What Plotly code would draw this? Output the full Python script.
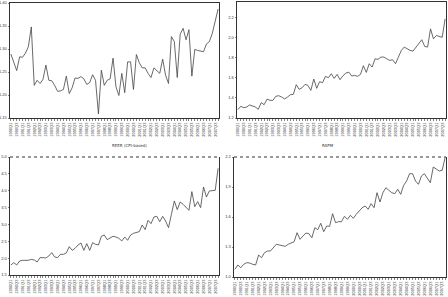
import plotly.graph_objects as go

quarters = [f"{1990 + i // 4}Q{i % 4 + 1}" for i in range(72)]
tick_labels = [q if i % 2 == 0 else "" for i, q in enumerate(quarters)]

reer = [1.289,1.270,1.253,1.283,1.282,1.291,1.305,1.348,1.221,1.232,
        1.225,1.234,1.265,1.232,1.231,1.221,1.208,1.209,1.212,1.241,
        1.203,1.216,1.237,1.236,1.240,1.235,1.223,1.227,1.244,1.232,
        1.159,1.254,1.221,1.232,1.235,1.280,1.218,1.199,1.247,1.205,
        1.272,1.272,1.212,1.288,1.270,1.259,1.259,1.247,1.238,1.259,
        1.254,1.247,1.278,1.243,1.225,1.327,1.316,1.238,1.332,1.345,
        1.320,1.342,1.241,1.299,1.297,1.296,1.294,1.311,1.316,1.334,
        1.364,1.387]

rapm = [1.283,1.316,1.302,1.309,1.329,1.322,1.309,1.286,1.352,1.332,
        1.388,1.375,1.375,1.415,1.421,1.408,1.388,1.408,1.431,1.434,
        1.530,1.484,1.500,1.533,1.523,1.474,1.586,1.494,1.560,1.550,
        1.613,1.599,1.639,1.593,1.632,1.580,1.619,1.645,1.655,1.616,
        1.622,1.613,1.632,1.718,1.652,1.738,1.705,1.787,1.781,1.804,
        1.804,1.787,1.771,1.778,1.738,1.804,1.870,1.903,1.886,1.870,
        1.863,1.903,1.936,1.976,1.910,1.903,2.084,1.985,2.018,2.009,
        2.000,2.183]

series3 = [1.797,1.866,1.797,1.915,1.935,1.925,1.935,1.965,1.945,1.886,
           2.014,2.014,2.004,2.064,2.163,2.034,2.014,2.113,2.113,2.153,
           2.341,2.232,2.291,2.390,2.449,2.232,2.430,2.232,2.459,2.410,
           2.390,2.647,2.687,2.548,2.608,2.647,2.627,2.588,2.509,2.627,
           2.529,2.687,2.736,2.766,2.786,2.984,2.845,3.122,3.023,3.221,
           3.241,3.082,3.241,3.102,2.904,3.300,3.696,3.438,3.666,3.597,
           3.520,3.419,3.973,3.527,3.676,3.498,4.111,3.814,3.992,4.012,
           4.012,4.665]

series4 = [1.077,1.120,1.093,1.127,1.143,1.140,1.127,1.120,1.220,1.193,
           1.243,1.260,1.260,1.293,1.327,1.320,1.310,1.307,1.327,1.343,
           1.353,1.443,1.377,1.410,1.440,1.433,1.393,1.493,1.473,1.537,
           1.453,1.510,1.507,1.633,1.543,1.553,1.553,1.607,1.577,1.617,
           1.587,1.627,1.660,1.693,1.710,1.677,1.733,1.693,1.843,1.750,
           1.843,1.893,1.867,1.843,1.833,1.877,1.827,1.917,1.960,2.033,
           2.033,1.960,1.927,2.010,2.033,1.987,1.943,2.100,2.077,2.060,
           2.067,2.193]

captions = ["REER (CPI-based)", "RAPM"]

W, H = 448, 297
panels = [
    (reer, (10, 219), (3, 118), [1.15, 1.40], [1.15, 1.20, 1.25, 1.30, 1.35, 1.40], ".2f", False),
    (rapm, (237, 446), (2, 118), [1.2, 2.35], [1.2, 1.4, 1.6, 1.8, 2.0, 2.2], ".1f", False),
    (series3, (10, 219), (157, 275), [1.5, 5.0], [1.5, 2.0, 2.5, 3.0, 3.5, 4.0, 4.5, 5.0], ".1f", True),
    (series4, (234, 446), (157, 277), [1.0, 2.2], [1.0, 1.3, 1.6, 1.9, 2.2], ".1f", True),
]

tick_font = dict(family="Liberation Sans Narrow, Arial Narrow, sans-serif", size=4, color="#333")

fig = go.Figure()
layout = dict(width=W, height=H, autosize=False, margin=dict(l=0, r=0, t=0, b=0, pad=0),
              paper_bgcolor="white", plot_bgcolor="white", showlegend=False,
              font=dict(family="DejaVu Sans", size=4, color="#222"))
shapes = []

for i, (vals, (x0, x1), (yt, yb), yr, yt_vals, fmt, dotted_top) in enumerate(panels):
    n = i + 1
    xa = "x" if n == 1 else f"x{n}"
    ya = "y" if n == 1 else f"y{n}"
    fig.add_trace(go.Scatter(x=list(range(len(vals))), y=vals, mode="lines",
                             line=dict(color="#444", width=0.8),
                             xaxis=xa, yaxis=ya, hoverinfo="skip"))
    xkey = "xaxis" if n == 1 else f"xaxis{n}"
    ykey = "yaxis" if n == 1 else f"yaxis{n}"
    layout[xkey] = dict(domain=[x0 / W, x1 / W], anchor=ya, range=[-0.3, 71.3],
                        automargin=False,
                        tickvals=list(range(72)), ticktext=tick_labels, tickangle=-90,
                        ticks="outside", ticklen=2, tickwidth=0.6, tickcolor="#333",
                        showline=True, linecolor="#333", linewidth=1,
                        mirror=not dotted_top,
                        showgrid=False, zeroline=False, tickfont=tick_font)
    layout[ykey] = dict(domain=[(H - yb) / H, (H - yt) / H], anchor=xa, range=yr,
                        automargin=False,
                        tickvals=yt_vals, tickformat=fmt,
                        ticks="outside", ticklen=1.5, tickwidth=0.6, tickcolor="#333",
                        showline=True, linecolor="#333", linewidth=1, mirror=True,
                        showgrid=False, zeroline=False, tickfont=tick_font)
    if dotted_top:
        shapes.append(dict(type="line", xref=f"{xa} domain", yref=f"{ya} domain",
                           x0=0, x1=1, y0=1, y1=1,
                           line=dict(color="#333", width=1, dash="dot")))

layout["shapes"] = shapes
layout["annotations"] = [
    dict(text=captions[0], x=110 / W, y=(H - 145) / H, xref="paper", yref="paper",
         showarrow=False, font=dict(size=4, color="#333")),
    dict(text=captions[1], x=336 / W, y=(H - 145) / H, xref="paper", yref="paper",
         showarrow=False, font=dict(size=4, color="#333")),
]

fig.update_layout(**layout)
fig.write_html("out.html", config={"displayModeBar": False, "staticPlot": True},
               post_script="document.body.style.margin='0';document.body.style.overflow='hidden';")
